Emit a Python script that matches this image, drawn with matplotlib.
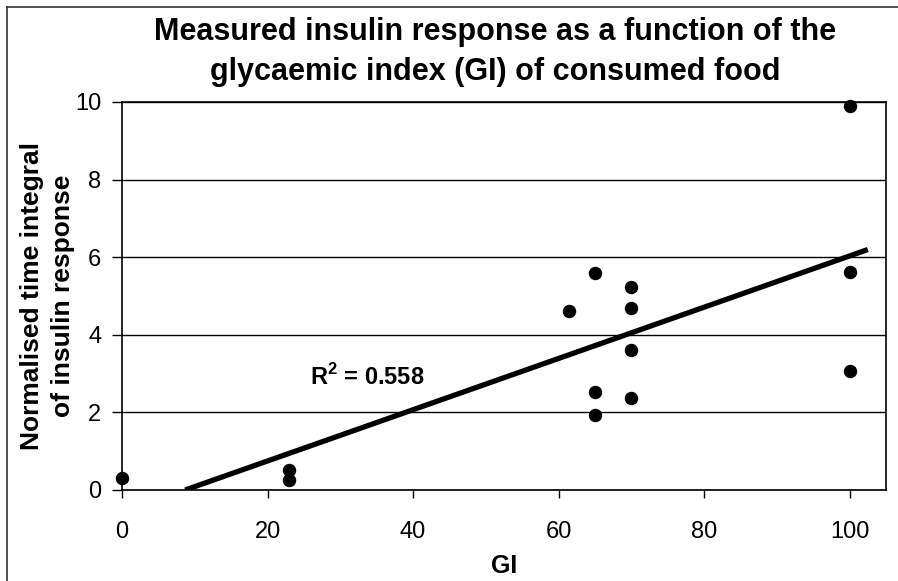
import numpy as np
import matplotlib
matplotlib.use("Agg")
import matplotlib.pyplot as plt
from matplotlib.lines import Line2D

# Data
gi = [0, 23, 23, 61.5, 65, 65, 65, 70, 70, 70, 70, 100, 100, 100]
insulin = [0.32, 0.52, 0.27, 4.62, 5.6, 2.52, 1.93, 5.22, 4.68, 3.62, 2.38, 9.9, 5.62, 3.07]
x_ticks = [0, 20, 40, 60, 80, 100]
y_ticks = [0, 2, 4, 6, 8, 10]
r2_label = "R$^\\mathbf{2}$ = 0.558"
title = "Measured insulin response as a function of the\nglycaemic index (GI) of consumed food"
xlabel = "GI"
ylabel = "Normalised time integral\nof insulin response"

plt.rcParams['font.family'] = ['Liberation Sans', 'DejaVu Sans']
plt.rcParams['mathtext.fontset'] = 'custom'
plt.rcParams['mathtext.rm'] = 'Liberation Sans:bold'
plt.rcParams['mathtext.bf'] = 'Liberation Sans:bold'

fig = plt.figure(figsize=(8.98, 5.81), dpi=100)
ax = fig.add_axes([122/898, 1-490/581, (886-122)/898, (490-102)/581])

ax.set_xlim(0, 105)
ax.set_ylim(0, 10)
ax.set_yticks(y_ticks)
ax.set_xticks(x_ticks)
ax.yaxis.grid(True, color='black', linewidth=1.0)
ax.set_axisbelow(True)

ax.scatter(gi, insulin, s=75, color='black', zorder=3, clip_on=False)

coef = np.polyfit(gi, insulin, 1)
x0 = -coef[1] / coef[0]
xl = np.array([x0, 102.5])
ax.plot(xl, np.polyval(coef, xl), color='black', linewidth=3.8, zorder=2, solid_capstyle='butt')

ax.text(25.8, 2.92, r2_label, fontsize=17, fontweight='bold', va='center', ha='left')

for s in ax.spines.values():
    s.set_color('black')
    s.set_linewidth(1.2)

ax.tick_params(axis='y', direction='out', length=7, width=1, pad=8, labelsize=17)
ax.tick_params(axis='x', direction='out', length=6, width=1, pad=16, labelsize=17)

ax.set_xlabel(xlabel, fontsize=18, fontweight='bold', labelpad=8)
ax.set_ylabel(ylabel, fontsize=19, fontweight='bold', labelpad=0, linespacing=1.35)
fig.text(495/898, 1 - 52/581, title, fontsize=22, fontweight='bold',
         ha='center', va='center', linespacing=1.4)

# partial frame (top and left edges, as in the cropped scan)
fig.add_artist(Line2D([7/898, 1.0], [1 - 7/581, 1 - 7/581], transform=fig.transFigure,
                      color='#333333', linewidth=1.2))
fig.add_artist(Line2D([7/898, 7/898], [0.0, 1 - 7/581], transform=fig.transFigure,
                      color='#333333', linewidth=1.2))

fig.savefig("out.png", dpi=100)
